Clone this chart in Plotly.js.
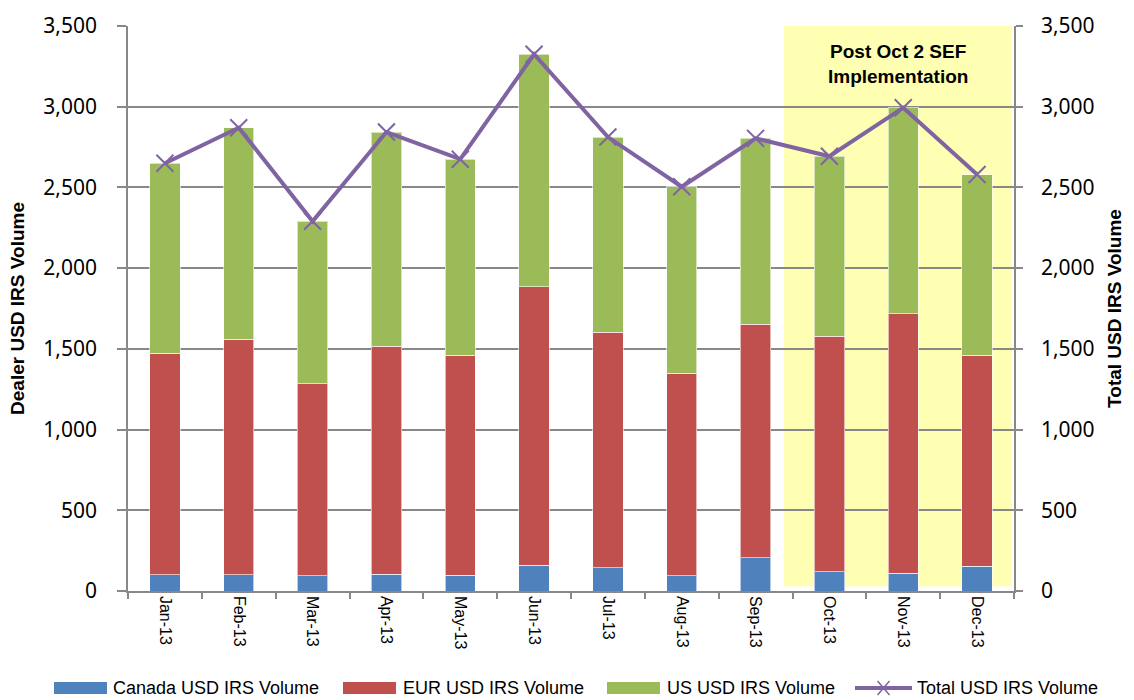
<!DOCTYPE html>
<html>
<head>
<meta charset="utf-8">
<script src="https://cdn.plot.ly/plotly-3.0.1.min.js"></script>
<style>body{margin:0;background:#fff;} #chart{width:1134px;height:700px;}</style>
</head>
<body>
<div id="chart"></div>
<script>
const months = ["Jan-13","Feb-13","Mar-13","Apr-13","May-13","Jun-13","Jul-13","Aug-13","Sep-13","Oct-13","Nov-13","Dec-13"];
const canada = [100,100,93,105,97,161,145,93,206,120,110,153];
const eur = [1373,1459,1191,1411,1362,1725,1457,1256,1446,1458,1606,1308];
const us = [1177,1311,1006,1327,1216,1439,1210,1155,1152,1115,1278,1119];
const total = [2650,2870,2290,2843,2675,3325,2812,2504,2804,2693,2994,2580];
const yTicks = [0,500,1000,1500,2000,2500,3000,3500];
const seriesNames = ['Canada USD IRS Volume','EUR USD IRS Volume','US USD IRS Volume','Total USD IRS Volume'];
const seriesColors = ['#4F81BD','#C0504D','#9BBB59','#8064A2'];

const barLine = {color:'rgba(255,255,255,0.6)', width:1};
const traces = [
  {type:'bar', name:seriesNames[0], x:months, y:canada, marker:{color:seriesColors[0], line:barLine}},
  {type:'bar', name:seriesNames[1], x:months, y:eur, marker:{color:seriesColors[1], line:barLine}},
  {type:'bar', name:seriesNames[2], x:months, y:us, marker:{color:seriesColors[2], line:barLine}},
  {type:'scatter', mode:'lines+markers', name:seriesNames[3], x:months, y:total, yaxis:'y2',
   line:{color:seriesColors[3], width:4},
   marker:{symbol:'x-thin', size:17, color:seriesColors[3], line:{color:seriesColors[3], width:2}}}
];

// manual legend (paper coordinates)
const L = 128, R = 1014, T = 26, B = 591;
const px = v => (v - L) / (R - L);
const py = v => (B - v) / (B - T);
const legY = 688;
const legItems = [
  {box:[54,107], text:111},
  {box:[343,396], text:401},
  {box:[607,660], text:665},
  {box:[855,912], text:915}
];
const shapes = [{type:'rect', xref:'x', yref:'y', x0:8.385, x1:11.47, y0:30, y1:3500, layer:'below',
                 fillcolor:'#FFFFB3', line:{width:0}}];
const annotations = [{xref:'x', yref:'y', x:9.93, y:3262, text:'<b>Post Oct 2 SEF<br>Implementation</b>', showarrow:false,
                font:{family:'Liberation Sans, Arial, sans-serif', size:19, color:'#000'}, align:'center', yanchor:'middle'}];
legItems.forEach((it, i) => {
  if (i < 3) {
    shapes.push({type:'rect', xref:'paper', yref:'paper', x0:px(it.box[0]), x1:px(it.box[1]), y0:py(legY+6), y1:py(legY-6),
                 fillcolor:seriesColors[i], line:{width:0}});
  } else {
    shapes.push({type:'line', xref:'paper', yref:'paper', x0:px(it.box[0]), x1:px(it.box[1]), y0:py(legY), y1:py(legY),
                 line:{color:seriesColors[i], width:4}});
    const c = (it.box[0] + it.box[1]) / 2;
    shapes.push({type:'line', xref:'paper', yref:'paper', x0:px(c-6), x1:px(c+6), y0:py(legY-7), y1:py(legY+7),
                 line:{color:seriesColors[i], width:1.5}});
    shapes.push({type:'line', xref:'paper', yref:'paper', x0:px(c-6), x1:px(c+6), y0:py(legY+7), y1:py(legY-7),
                 line:{color:seriesColors[i], width:1.5}});
  }
  annotations.push({xref:'paper', yref:'paper', x:px(it.text), y:py(legY), xanchor:'left', yanchor:'middle',
                    text:seriesNames[i], showarrow:false,
                    font:{family:'Liberation Sans, Arial, sans-serif', size:18, color:'#000'}});
});

const tickFont = {family:'Noto Sans, Open Sans, sans-serif', size:21, color:'#000'};
const titleFont = {family:'Liberation Sans, Arial, sans-serif', size:19, color:'#000', weight:'bold'};
const layout = {
  width:1134, height:700,
  margin:{l:L, r:1134-R, t:T, b:700-B},
  paper_bgcolor:'#fff', plot_bgcolor:'#fff',
  barmode:'stack', bargap:0.59,
  showlegend:false,
  xaxis:{type:'category', range:[-0.5, months.length - 0.5], tickangle:90, tickson:'boundaries', ticks:'outside', ticklen:6, tickcolor:'#888', tickwidth:1.5,
         showline:true, linecolor:'#888', linewidth:1.5, showgrid:false, automargin:false,
         tickfont:{family:'Liberation Sans, Arial, sans-serif', size:16, color:'#000'}},
  yaxis:{range:[0,3500], tickvals:yTicks, tickformat:',', ticks:'outside', ticklen:9, tickcolor:'#888', tickwidth:1.5,
         showline:true, linecolor:'#888', linewidth:1.5, gridcolor:'#888', gridwidth:1.5, zeroline:false,
         ticklabelstandoff:16, automargin:false,
         tickfont:tickFont,
         title:{text:'Dealer USD IRS Volume', standoff:14, font:titleFont}},
  yaxis2:{range:[0,3500], tickvals:yTicks, tickformat:',', overlaying:'y', side:'right', ticks:'outside', ticklen:7, tickcolor:'#888', tickwidth:1.5,
          showline:true, linecolor:'#888', linewidth:1.5, showgrid:false, zeroline:false,
          ticklabelstandoff:14, automargin:false,
          tickfont:tickFont,
          title:{text:'Total USD IRS Volume', standoff:14, font:titleFont}},
  shapes:shapes,
  annotations:annotations
};
Plotly.newPlot('chart', traces, layout, {displayModeBar:false});
</script>
</body>
</html>
